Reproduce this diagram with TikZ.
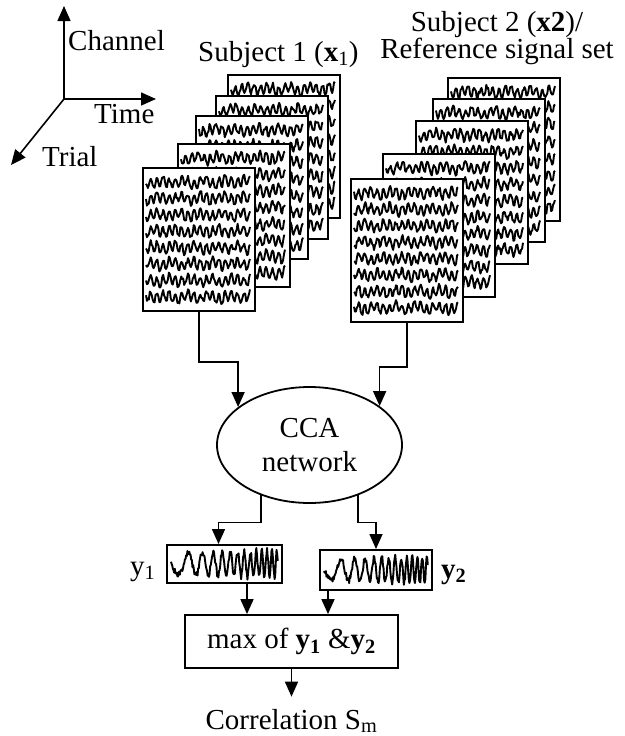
\documentclass[tikz,border=0pt]{standalone}
\usepackage{fontspec}
\setmainfont{Liberation Serif}
\usetikzlibrary{shapes.geometric, arrows.meta, positioning, calc}
\newcommand{\lblfont}{\fontsize{29}{32}\selectfont}
\tikzset{
  eegframe/.style={
    draw, fill=white, line width=2.2pt, inner sep=0pt,
    minimum width=112pt, minimum height=143pt, anchor=north west,
  },
  wave/.style={line width=1.9pt, line join=round},
  outbox/.style={
    draw, fill=white, line width=2pt, inner sep=0pt,
    minimum width=115pt, minimum height=38pt,
  },
  ccanode/.style={
    ellipse, draw, line width=1.8pt, inner sep=0pt,
    minimum width=185pt, minimum height=116pt,
    align=center, font=\fontsize{29}{34}\selectfont,
  },
  arw/.style={-{Triangle[length=15pt, width=13pt]}, line width=1.6pt},
  lbl/.style={font=\lblfont, inner sep=0pt},
}
% rows of EEG traces inside a frame whose top-left corner is #1,#2
\newcommand{\eegrows}[2]{%
  \pgfmathsetmacro{\wxa}{#1+4}%
  \foreach \r in {0,...,7} {%
    \pgfmathsetmacro{\wy}{#2+15+16.4*\r}%
    \draw[wave] plot[domain=0:104, samples=110]
      (\wxa+\x, {\wy+5*sin(58*\x+30*rand)+1.8*sin(17*\x+40*\r)+1.2*rand});
  }%
}
% one output trace, slow on the left and fast on the right
\newcommand{\chirp}[3]{%
  \draw[wave] plot[domain=0:1, samples=170]
    ({#1-#3+4+\x*(2*#3-8)}, {#2+(10+4*\x)*sin(360*(3*\x+10*\x*\x))+3*rand});
}

\begin{document}
\begin{tikzpicture}[x=1pt, y=-1pt]
  \useasboundingbox (0,0) rectangle (624,736);
  \pgfmathsetseed{11}

  % Axes
  \coordinate (ax0) at (64,99);
  \coordinate (axch) at (64,6);
  \coordinate (axti) at (156,99);
  \coordinate (axtr) at (11,165);
  \draw[arw] (ax0) -- (axch);
  \draw[arw] (ax0) -- (axti);
  \draw[arw] (ax0) -- (axtr);
  \node[lbl, anchor=base west] (chlab) at (68,50) {Channel};
  \node[lbl, anchor=base west] (tilab) at (94,123) {Time};
  \node[lbl, anchor=base west] (trlab) at (42,166) {Trial};

  % Subject 1 trials, back to front
  \node[lbl, anchor=base west] (subja) at (198,61) {Subject 1 (\textbf{x}\textsubscript{1})};
  \foreach \fx/\fy [count=\k] in {227/74, 215/95, 195/115, 177/143, 142/167} {
    \node[eegframe] (sa\k) at (\fx,\fy) {};
    \eegrows{\fx}{\fy}
  }

  % Subject 2 / reference trials, back to front
  \node[lbl, align=center, font=\fontsize{29}{23}\selectfont, anchor=north]
    (subjb) at (497,11) {Subject 2 (\textbf{x2})/\\Reference signal set};
  \foreach \fx/\fy [count=\k] in {447/77, 432/98, 415/120, 382/153, 350/178} {
    \node[eegframe] (sb\k) at (\fx,\fy) {};
    \eegrows{\fx}{\fy}
  }

  % CCA
  \node[ccanode] (cca) at (309.5,445) {CCA\\network};
  \draw[arw] (sa5.south) -- ++(0,50) -| (cca.152);
  \draw[arw] (sb5.south) -- ++(0,44) -| (cca.29);

  % Outputs
  \node[outbox] (y1box) at (224.5,564) {};
  \chirp{224.5}{564}{57.5}
  \node[outbox, minimum width=112pt, minimum height=40pt] (y2box) at (376,570) {};
  \chirp{376}{570}{56}
  \node[lbl, anchor=base west] (ylab1) at (130,575) {y\textsubscript{1}};
  \node[lbl, anchor=base west] (ylab2) at (441,578) {\textbf{y\textsubscript{2}}};
  \draw[arw] (cca.226) -- ++(0,27) -| ([xshift=-6pt]y1box.north);
  \draw[arw] (cca.314) -- ++(0,27) -| (y2box.north);

  % Max and result
  \node[draw, line width=1.8pt, minimum width=213pt, minimum height=53pt, font=\lblfont]
    (maxbox) at (291.5,641.5) {max of \textbf{y\textsubscript{1}} \&\textbf{y\textsubscript{2}}};
  \coordinate (ya) at ($(y1box.south)+(22.5,0)$);
  \coordinate (yb) at ($(y2box.south)+(-48,0)$);
  \draw[arw] (ya) -- (ya |- maxbox.north);
  \draw[arw] (yb) -- (yb |- maxbox.north);
  \node[lbl, anchor=base] (corr) at (291.5,729) {Correlation S\textsubscript{m}};
  \draw[arw, shorten >=12pt] (maxbox.south) -- (corr.north);
\end{tikzpicture}
\end{document}
